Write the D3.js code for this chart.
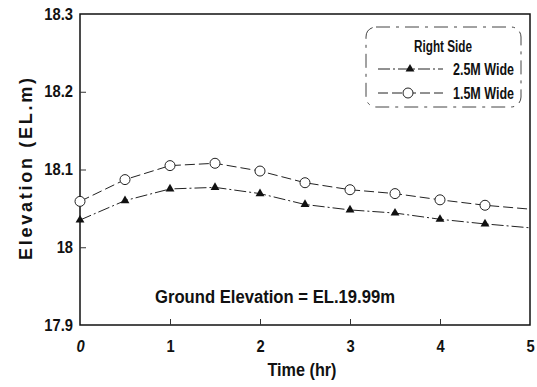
<!DOCTYPE html>
<html>
<head>
<meta charset="utf-8">
<script src="https://cdn.jsdelivr.net/npm/d3@7"></script>
<style>
  body { margin: 0; background: #fff; }
  text { font-family: "Liberation Sans", Arial, sans-serif; font-weight: bold; fill: #111; }
</style>
</head>
<body>
<div id="chart"></div>
<script>
const times = [0, 0.5, 1, 1.5, 2, 2.5, 3, 3.5, 4, 4.5, 5];
// last point (t=5) has no marker in the picture
const wide25 = [18.035, 18.060, 18.075, 18.077, 18.069, 18.055, 18.048, 18.044, 18.036, 18.030, 18.025];
const wide15 = [18.059, 18.087, 18.105, 18.108, 18.098, 18.083, 18.074, 18.069, 18.061, 18.054, 18.049];
const xTicks = [0, 1, 2, 3, 4, 5];
const yTicks = [17.9, 18, 18.1, 18.2, 18.3];
const legendTitle = 'Right Side';
const seriesNames = ['2.5M Wide', '1.5M Wide'];
const note = 'Ground Elevation = EL.19.99m';

const W = 537, H = 387;
const margin = { top: 14, right: 7, bottom: 62, left: 80 };
const width = W - margin.left - margin.right;
const height = H - margin.top - margin.bottom;

const svg = d3.select('#chart').append('svg')
  .attr('width', W)
  .attr('height', H);

const g = svg.append('g')
  .attr('transform', 'translate(' + margin.left + ',' + margin.top + ')');

const x = d3.scaleLinear().domain([0, 5]).range([0, width]);
const y = d3.scaleLinear().domain([17.9, 18.3]).range([height, 0]);

// the original uses a condensed face, squeeze glyphs a bit
function narrow(sel, k) {
  sel.each(function () {
    const len = this.getComputedTextLength();
    d3.select(this).attr('textLength', len * k).attr('lengthAdjust', 'spacingAndGlyphs');
  });
}

// frame
g.append('rect')
  .attr('width', width)
  .attr('height', height)
  .attr('fill', 'none')
  .attr('stroke', '#111')
  .attr('stroke-width', 1.5);

// inward ticks on x
const xAxis = g.append('g')
  .attr('transform', 'translate(0,' + height + ')')
  .call(d3.axisBottom(x).tickValues(xTicks).tickSize(-6).tickPadding(16).tickFormat(d3.format('d')));
xAxis.select('.domain').remove();
xAxis.selectAll('.tick line').attr('stroke', '#333').filter(d => d === 0 || d === 5).remove();
xAxis.selectAll('.tick text')
  .attr('font-size', 16)
  .attr('font-family', null)
  .style('font-style', d => d === 0 ? 'italic' : 'normal')
  .call(narrow, 0.92);

// inward ticks on y
const yAxis = g.append('g')
  .call(d3.axisLeft(y).tickValues(yTicks).tickSize(-6).tickPadding(7).tickFormat(d => d3.format('')(+d.toFixed(1))));
yAxis.select('.domain').remove();
yAxis.selectAll('.tick line').attr('stroke', '#333').filter(d => d === 17.9 || d === 18.3).remove();
yAxis.selectAll('.tick text')
  .attr('font-size', 16)
  .attr('font-family', null)
  .call(narrow, 0.92);

// series
const series = [
  { vals: wide25, dash: '12,3,2,3', marker: 'tri' },
  { vals: wide15, dash: '10,4', marker: 'circle' }
];

const line = d3.line()
  .x(d => x(d[0]))
  .y(d => y(d[1]));

series.forEach(s => {
  const pts = times.map((t, i) => [t, s.vals[i]]);
  g.append('path')
    .datum(pts)
    .attr('fill', 'none')
    .attr('stroke', '#222')
    .attr('stroke-width', 1)
    .attr('stroke-dasharray', s.dash)
    .attr('d', line);

  const mk = pts.slice(0, pts.length - 1);
  if (s.marker === 'tri') {
    g.selectAll(null).data(mk).enter().append('path')
      .attr('d', d3.symbol().type(d3.symbolTriangle).size(34))
      .attr('transform', d => 'translate(' + x(d[0]) + ',' + y(d[1]) + ')')
      .attr('fill', '#111');
  } else {
    g.selectAll(null).data(mk).enter().append('circle')
      .attr('cx', d => x(d[0]))
      .attr('cy', d => y(d[1]))
      .attr('r', 5)
      .attr('fill', '#fff')
      .attr('stroke', '#222')
      .attr('stroke-width', 1);
  }
});

// legend
const lg = svg.append('g').attr('transform', 'translate(366,27)');
lg.append('rect')
  .attr('width', 155)
  .attr('height', 80)
  .attr('rx', 10)
  .attr('fill', '#fff')
  .attr('stroke', '#444')
  .attr('stroke-width', 1)
  .attr('stroke-dasharray', '14,6,3,6');
lg.append('text')
  .attr('x', 77)
  .attr('y', 25)
  .attr('text-anchor', 'middle')
  .attr('font-size', 16)
  .attr('textLength', 58)
  .attr('lengthAdjust', 'spacingAndGlyphs')
  .text(legendTitle);

series.forEach((s, i) => {
  const ly = 42 + i * 24;
  lg.append('line')
    .attr('x1', 12).attr('x2', 77)
    .attr('y1', ly).attr('y2', ly)
    .attr('stroke', '#222')
    .attr('stroke-dasharray', s.dash);
  if (s.marker === 'tri') {
    lg.append('path')
      .attr('d', d3.symbol().type(d3.symbolTriangle).size(34))
      .attr('transform', 'translate(44,' + ly + ')')
      .attr('fill', '#111');
  } else {
    lg.append('circle')
      .attr('cx', 42).attr('cy', ly).attr('r', 5)
      .attr('fill', '#fff').attr('stroke', '#222');
  }
  lg.append('text')
    .attr('x', 87)
    .attr('y', ly + 6)
    .attr('font-size', 16)
    .attr('textLength', 61)
    .attr('lengthAdjust', 'spacingAndGlyphs')
    .text(seriesNames[i]);
});

// note
g.append('text')
  .attr('x', 155 - margin.left)
  .attr('y', 303 - margin.top)
  .attr('font-size', 18)
  .attr('textLength', 240)
  .attr('lengthAdjust', 'spacingAndGlyphs')
  .text(note);

// axis titles
svg.append('text')
  .attr('x', 302)
  .attr('y', 376)
  .attr('text-anchor', 'middle')
  .attr('font-size', 18)
  .attr('textLength', 69)
  .attr('lengthAdjust', 'spacingAndGlyphs')
  .text('Time (hr)');

svg.append('text')
  .attr('transform', 'translate(32,169) rotate(-90)')
  .attr('text-anchor', 'middle')
  .attr('font-size', 18)
  .attr('textLength', 182)
  .attr('lengthAdjust', 'spacing')
  .text('Elevation (EL.m)');
</script>
</body>
</html>
